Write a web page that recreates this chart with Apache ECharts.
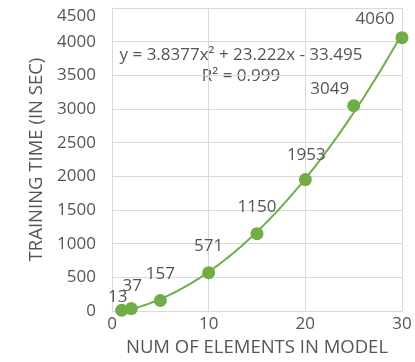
<!DOCTYPE html>
<html>
<head>
<meta charset="utf-8">
<script src="https://cdn.jsdelivr.net/npm/echarts@6/dist/echarts.min.js"></script>
<style>
  html, body { margin: 0; padding: 0; background: #fff; }
  #chart { width: 415px; height: 362px; }
</style>
</head>
<body>
<div id="chart"></div>
<script>
// Number of elements in the model vs. measured training time (seconds)
const elements = [1, 2, 5, 10, 15, 20, 25, 30];
const trainingSec = [13, 37, 157, 571, 1150, 1953, 3049, 4060];

// Polynomial (order 2) trendline: y = a*x^2 + b*x + c
const fitCoef = [3.8377, 23.222, -33.495];
const fitR2 = 0.999;

// Axis ranges
const xAxisRange = [0, 30, 10];
const yAxisRange = [0, 4500, 500];

const GREEN = '#70AD47';
const TEXT = '#555555';
const GRID = '#d9d9d9';
const FONT = '"Open Sans", "Liberation Sans", sans-serif';

// Trendline sampled across the measured range
const trendPts = [];
const xFrom = elements[0], xTo = elements[elements.length - 1];
for (let i = 0; i <= 116; i++) {
  const x = xFrom + (xTo - xFrom) * i / 116;
  trendPts.push([x, fitCoef[0] * x * x + fitCoef[1] * x + fitCoef[2]]);
}

// Label nudges to keep the value labels clear of the curve
const labelNudge = {0: [-4, 13], 1: [1, 4], 5: [1, 2], 6: [-24, 9], 7: [-27, 8]};

const points = elements.map((x, i) => {
  const item = { value: [x, trainingSec[i]] };
  if (labelNudge[i]) item.label = { offset: labelNudge[i] };
  return item;
});

const eqLine = 'y = ' + fitCoef[0] + 'x² + ' + fitCoef[1] + 'x - ' + Math.abs(fitCoef[2]);
const r2Line = 'R² = ' + fitR2;

const chart = echarts.init(document.getElementById('chart'), null, { renderer: 'canvas' });
chart.setOption({
  animation: false,
  backgroundColor: '#fff',
  textStyle: { fontFamily: FONT },
  grid: { left: 112, right: 13, top: 8, bottom: 44, containLabel: false },
  xAxis: {
    type: 'value',
    min: xAxisRange[0], max: xAxisRange[1], interval: xAxisRange[2],
    name: 'NUM OF ELEMENTS IN MODEL',
    nameLocation: 'middle',
    nameGap: 23,
    nameTextStyle: { color: TEXT, fontSize: 18.5, fontFamily: FONT },
    axisLine: { show: true, lineStyle: { color: GRID, width: 1 } },
    axisTick: { show: false },
    axisLabel: { color: TEXT, fontSize: 17, fontFamily: FONT, margin: 5 },
    splitLine: { show: true, lineStyle: { color: GRID, width: 1 } }
  },
  yAxis: {
    type: 'value',
    min: yAxisRange[0], max: yAxisRange[1], interval: yAxisRange[2],
    name: 'TRAINING TIME (IN SEC)',
    nameLocation: 'middle',
    nameGap: 66,
    nameTextStyle: { color: TEXT, fontSize: 18.5, fontFamily: FONT },
    axisLine: { show: true, lineStyle: { color: GRID, width: 1 } },
    axisTick: { show: false },
    axisLabel: {
      color: TEXT, fontSize: 17, fontFamily: FONT, margin: 16,
      verticalAlignMaxLabel: 'top',
      formatter: v => String(v)
    },
    splitLine: { show: true, lineStyle: { color: GRID, width: 1 } }
  },
  series: [
    {
      type: 'line',
      data: trendPts,
      showSymbol: false,
      symbol: 'none',
      clip: false,
      lineStyle: { color: GREEN, width: 2 },
      silent: true,
      z: 2
    },
    {
      type: 'scatter',
      data: points,
      symbol: 'circle',
      symbolSize: 13,
      clip: false,
      itemStyle: { color: GREEN, opacity: 1 },
      label: {
        show: true,
        position: 'top',
        distance: 11,
        color: TEXT,
        fontSize: 17,
        fontFamily: FONT,
        formatter: p => String(p.value[1])
      },
      z: 3
    }
  ],
  graphic: [
    {
      type: 'text',
      x: 241, y: 55,
      style: { text: eqLine, fill: TEXT, font: '17px ' + FONT, align: 'center', verticalAlign: 'middle' }
    },
    {
      type: 'text',
      x: 241, y: 76,
      style: { text: r2Line, fill: TEXT, font: '17px ' + FONT, align: 'center', verticalAlign: 'middle' }
    }
  ]
});
</script>
</body>
</html>
